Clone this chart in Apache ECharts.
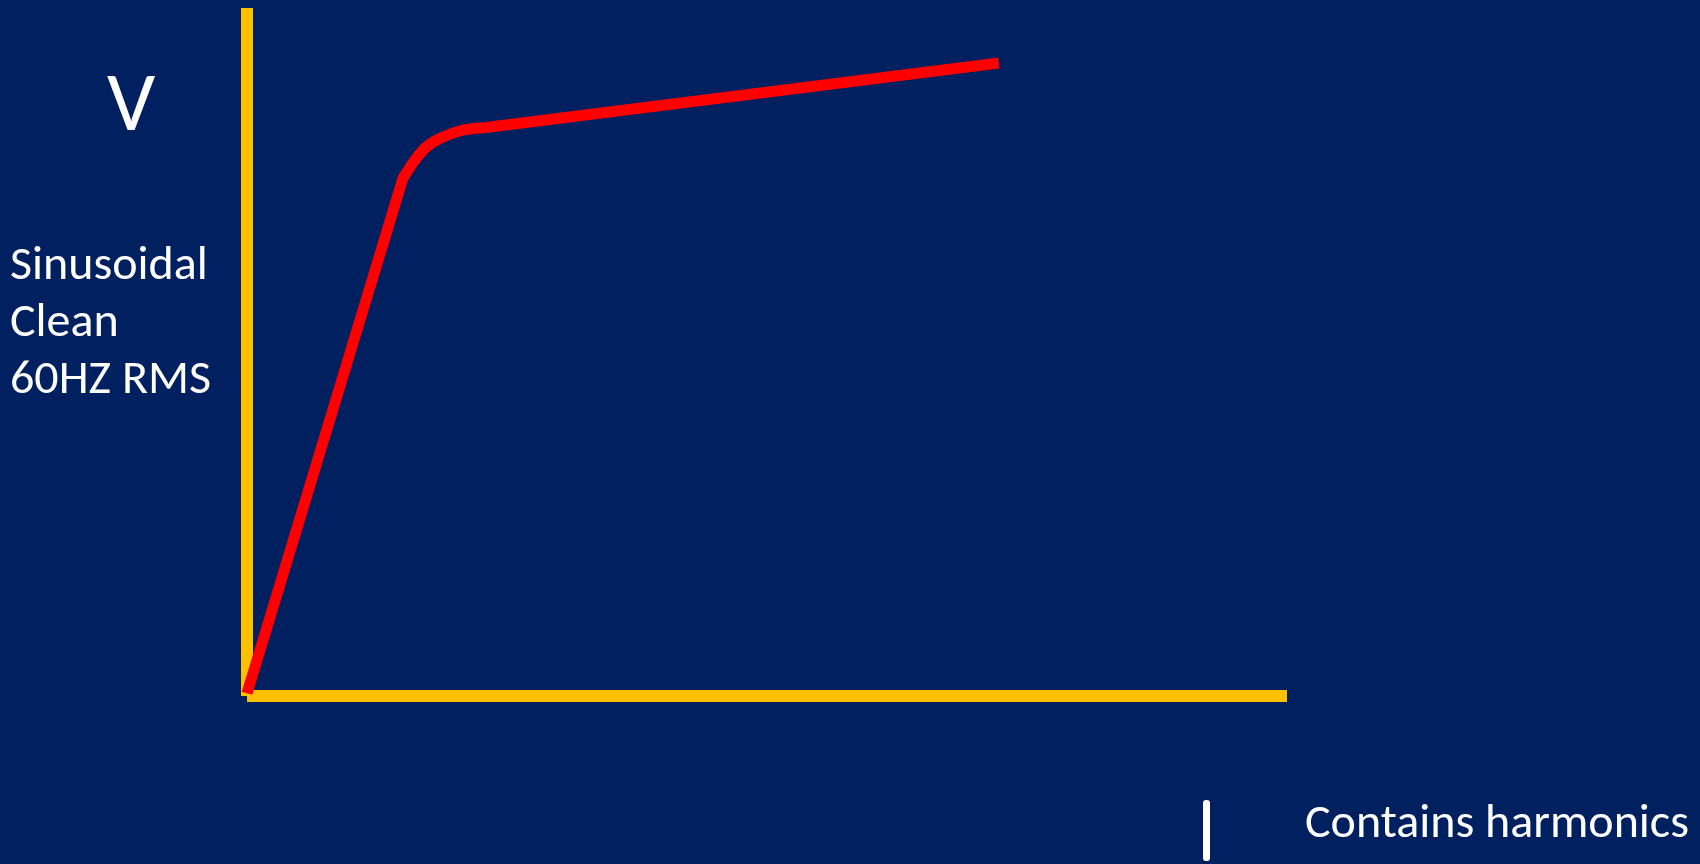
<!DOCTYPE html>
<html>
<head>
<meta charset="utf-8">
<title>V characteristic</title>
<script src="https://cdn.jsdelivr.net/npm/echarts@6/dist/echarts.min.js"></script>
<style>
  html, body { margin: 0; padding: 0; background: #002060; }
  #chart { width: 1700px; height: 864px; }
</style>
</head>
<body>
<div id="chart"></div>
<script>
// Curve points (x, V): steep rise, rounded knee, then gentle slope
const curveX = [0, 15.0, 15.38, 15.87, 16.44, 17.12, 17.88, 18.85, 19.81, 20.77, 21.83, 22.98, 72.3];
const curveV = [0.4, 75.29, 76.16, 77.33, 78.49, 79.65, 80.52, 81.25, 81.83, 82.27, 82.49, 82.63, 92.0];

// Axis ranges
const xRange = [0, 100];
const yRange = [0, 100];

// Text shown beside the axes
const yTitle = 'V';
const yNotes = ['Sinusoidal', 'Clean', '60HZ RMS'];
const xNote = 'Contains harmonics';

const FONT = 'Carlito, Lato, sans-serif';

const chart = echarts.init(document.getElementById('chart'), null, { renderer: 'canvas' });

const points = curveX.map((x, i) => [x, curveV[i]]);

const noteTexts = yNotes.map((t, i) => ({
  type: 'text',
  left: 10,
  top: 243 + i * 57,
  style: { text: t, fill: '#ffffff', font: '48px ' + FONT }
}));

const axisStyle = { color: '#FFC000', width: 12, cap: 'butt' };

chart.setOption({
  backgroundColor: '#002060',
  animation: false,
  grid: { left: 247, right: 413, top: 8, bottom: 168, containLabel: false },
  xAxis: {
    type: 'value', min: xRange[0], max: xRange[1],
    axisLine: { show: true, onZero: false, lineStyle: axisStyle },
    axisTick: { show: false }, axisLabel: { show: false }, splitLine: { show: false }
  },
  yAxis: {
    type: 'value', min: yRange[0], max: yRange[1],
    axisLine: { show: true, onZero: false, lineStyle: axisStyle },
    axisTick: { show: false }, axisLabel: { show: false }, splitLine: { show: false }
  },
  series: [{
    type: 'line',
    data: points,
    showSymbol: false,
    smooth: false,
    lineStyle: { color: '#FF0000', width: 11, cap: 'butt', join: 'round' },
    z: 5
  }],
  graphic: [
    {
      type: 'text', left: 107, top: 66,
      style: { text: yTitle, fill: '#ffffff', font: '85px ' + FONT }
    },
    ...noteTexts,
    {
      type: 'rect', left: 1203, top: 800,
      shape: { width: 7, height: 61, r: 3 },
      style: { fill: '#ffffff' }
    },
    {
      type: 'text', left: 1305, top: 801,
      style: { text: xNote, fill: '#ffffff', font: '48px ' + FONT }
    }
  ]
});
</script>
</body>
</html>
